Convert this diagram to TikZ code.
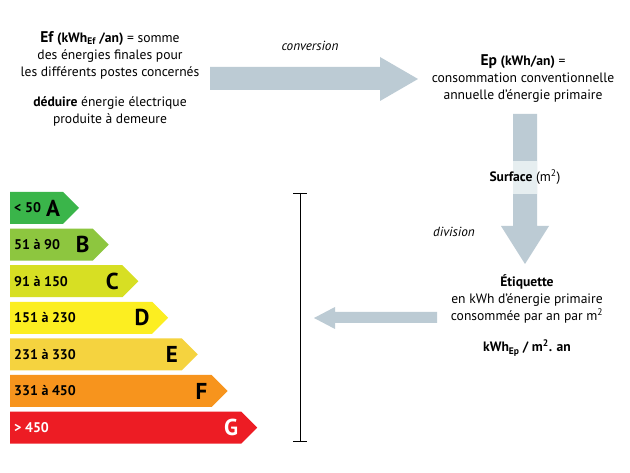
\documentclass[tikz,border=0pt]{standalone}
\usepackage{fontspec}
\setmainfont{PT Sans}
\definecolor{arr}{HTML}{BCCBD4}
\definecolor{arrlight}{HTML}{E6EEF0}
\definecolor{cA}{HTML}{3AB54A}
\definecolor{cB}{HTML}{8DC63F}
\definecolor{cC}{HTML}{D7DF23}
\definecolor{cD}{HTML}{FCEE21}
\definecolor{cE}{HTML}{F5D33F}
\definecolor{cF}{HTML}{F7941D}
\definecolor{cG}{HTML}{ED1C24}
\tikzset{
  txt/.style={align=center, inner sep=0pt, font=\fontsize{13.6}{17}\selectfont},
  itxt/.style={inner sep=0pt, font=\fontsize{13.2}{17}\selectfont\itshape},
  rng/.style={anchor=west, inner sep=0pt, font=\fontsize{14}{15}\selectfont\bfseries},
  letter/.style={inner sep=0pt, font=\fontsize{23}{25}\selectfont\bfseries},
}
\begin{document}
\begin{tikzpicture}[x=1pt,y=-1pt]
\useasboundingbox (0,0) rectangle (630,473);
\fill[white] (0,0) rectangle (630,473);

% horizontal conversion arrow
\fill[arr] (210,67) -- (380,67) -- (380,57) -- (418,79) -- (380,101) -- (380,90) -- (210,90) -- cycle;
% vertical division arrow
\fill[arr] (513,114) -- (537,114) -- (537,226) -- (549,226) -- (525,264) -- (501,226) -- (513,226) -- cycle;
\fill[arrlight] (513,161) rectangle (537,194);
% left arrow
\fill[arr] (437,312) -- (335,312) -- (335,307) -- (314,318) -- (335,329) -- (335,323) -- (437,323) -- cycle;

% texts
\node[txt] (ef) at (110,55) {{\fontsize{15.5}{17}\selectfont\bfseries Ef} {\bfseries (kWh\textsubscript{Ef} /an)} = somme\\des énergies finales pour\\les différents postes concernés};
\node[txt] (ded) at (110,111.5) {{\bfseries déduire} énergie électrique\\produite à demeure};
\node[itxt] (conv) at (310,46) {conversion};
\node[txt] (ep) at (523,79) {{\fontsize{15.5}{17}\selectfont\bfseries Ep} {\bfseries (kWh/an)} =\\consommation conventionnelle\\annuelle d’énergie primaire};
\node[txt] (surf) at (525,177) {{\bfseries Surface} (m\textsuperscript{2})};
\node[itxt] (div) at (454,232) {division};
\node[txt] (etq) at (527,299) {{\bfseries Étiquette}\\en kWh d’énergie primaire\\consommée par an par m\textsuperscript{2}};
\node[txt] (unit) at (527,348) {\bfseries kWh\textsubscript{Ep} / m\textsuperscript{2}. an};

% scale bar
\coordinate (st) at (300,193);
\coordinate (sb) at (300,441);
\draw[line width=0.9pt] (st) -- (sb);
\draw[line width=0.9pt] ([xshift=-7pt]st) -- ([xshift=7pt]st);
\draw[line width=0.9pt] ([xshift=-7pt]sb) -- ([xshift=7pt]sb);

% energy bars
\foreach \i/\col/\rg/\L/\tc in {0/cA/{< 50}/A/black,1/cB/{51 à 90}/B/black,2/cC/{91 à 150}/C/black,3/cD/{151 à 230}/D/black,4/cE/{231 à 330}/E/black,5/cF/{331 à 450}/F/black,6/cG/{> 450}/G/white}{
  \pgfmathsetmacro\yt{192+36.6*\i}
  \pgfmathsetmacro\xr{63+29.7*\i}
  \fill[\col] (10,\yt) -- (\xr,\yt) -- (\xr+16,\yt+16) -- (\xr,\yt+32) -- (10,\yt+32) -- cycle;
  \node[rng, text=\tc] (r\L) at (14,\yt+16) {\rg};
  \node[letter, text=\tc] (l\L) at (\xr-10,\yt+16) {\L};
}
\end{tikzpicture}
\end{document}
